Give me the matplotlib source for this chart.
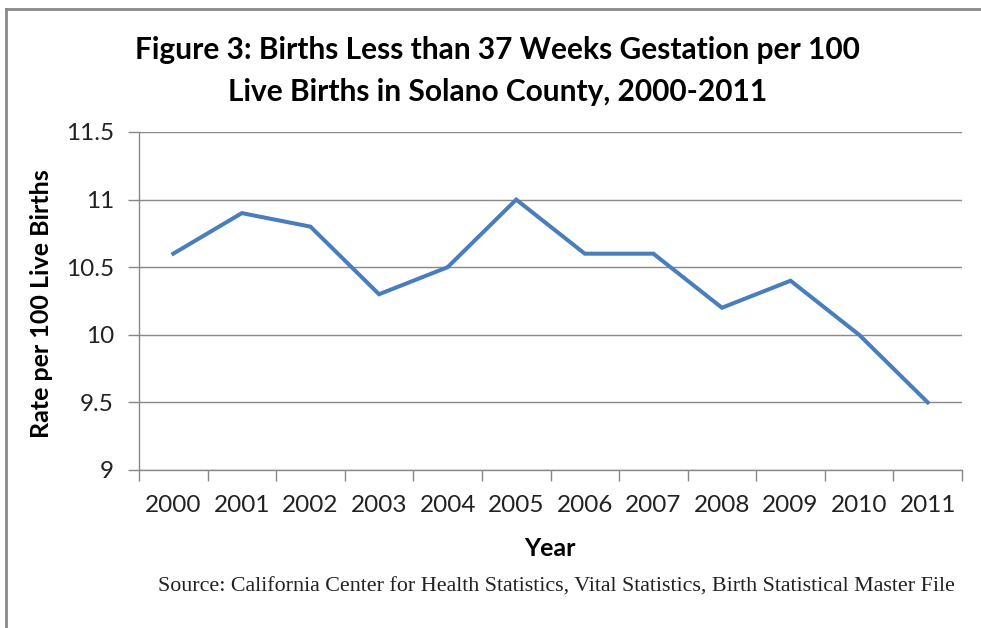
import matplotlib
matplotlib.use("Agg")
import matplotlib.pyplot as plt
from matplotlib.lines import Line2D

years = ['2000', '2001', '2002', '2003', '2004', '2005',
         '2006', '2007', '2008', '2009', '2010', '2011']
rates = [10.6, 10.9, 10.8, 10.3, 10.5, 11.0, 10.6, 10.6, 10.2, 10.4, 10.0, 9.5]
yticks = [9, 9.5, 10, 10.5, 11, 11.5]
ytick_labels = ['9', '9.5', '10', '10.5', '11', '11.5']

GRAY = '#888888'

fig = plt.figure(figsize=(9.81, 6.28), dpi=100)
ax = fig.add_axes([139/981, 1-470/628, (962-139)/981, (470-132)/628])

x = list(range(len(years)))
ax.plot(x, rates, color='#4A7EBB', linewidth=2.9, solid_joinstyle='miter')

ax.set_xlim(-0.5, len(years)-0.5)
ax.set_ylim(9, 11.5)
ax.set_yticks(yticks)
ax.set_yticklabels(ytick_labels)
ax.set_xticks(x)
ax.set_xticklabels(years)
ax.set_xticks([i-0.5 for i in range(len(years)+1)], minor=True)
ax.tick_params(axis='x', which='major', length=0, pad=18, labelsize=17.5)
ax.tick_params(axis='x', which='minor', length=8, width=1, color=GRAY, direction='out')
ax.tick_params(axis='y', length=8, width=1, color=GRAY, pad=10, labelsize=17.5)
for lab in ax.get_xticklabels() + ax.get_yticklabels():
    lab.set_family('Lato')
    lab.set_color('#222222')

ax.grid(axis='y', color=GRAY, linewidth=1)
ax.set_axisbelow(True)
for s in ['top', 'right']:
    ax.spines[s].set_visible(False)
for s in ['left', 'bottom']:
    ax.spines[s].set_color(GRAY)
    ax.spines[s].set_linewidth(1)

fig.text(497/981, 1-50/628, 'Figure 3: Births Less than 37 Weeks Gestation per 100',
         ha='center', va='center', fontsize=21.5, fontweight='bold', family='Lato')
fig.text(498/981, 1-92/628, 'Live Births in Solano County, 2000-2011',
         ha='center', va='center', fontsize=21.5, fontweight='bold', family='Lato')
fig.text(42/981, 1-304/628, 'Rate per 100 Live Births', rotation=90,
         ha='center', va='center', fontsize=18, fontweight='bold', family='Lato')
fig.text(550/981, 1-548/628, 'Year', ha='center', va='center',
         fontsize=18, fontweight='bold', family='Lato')
fig.text(556/981, 1-587/628,
         'Source: California Center for Health Statistics, Vital Statistics, Birth Statistical Master File',
         ha='center', va='center', fontsize=15.8, family='Liberation Serif', color='#222222')

# outer border (left and top)
fig.add_artist(Line2D([6/981, 6/981], [0, 1-9/628], transform=fig.transFigure,
                      color='#8a8a8a', linewidth=2))
fig.add_artist(Line2D([6/981, 1], [1-9/628, 1-9/628], transform=fig.transFigure,
                      color='#8a8a8a', linewidth=2))

fig.savefig('out.png', dpi=100)
